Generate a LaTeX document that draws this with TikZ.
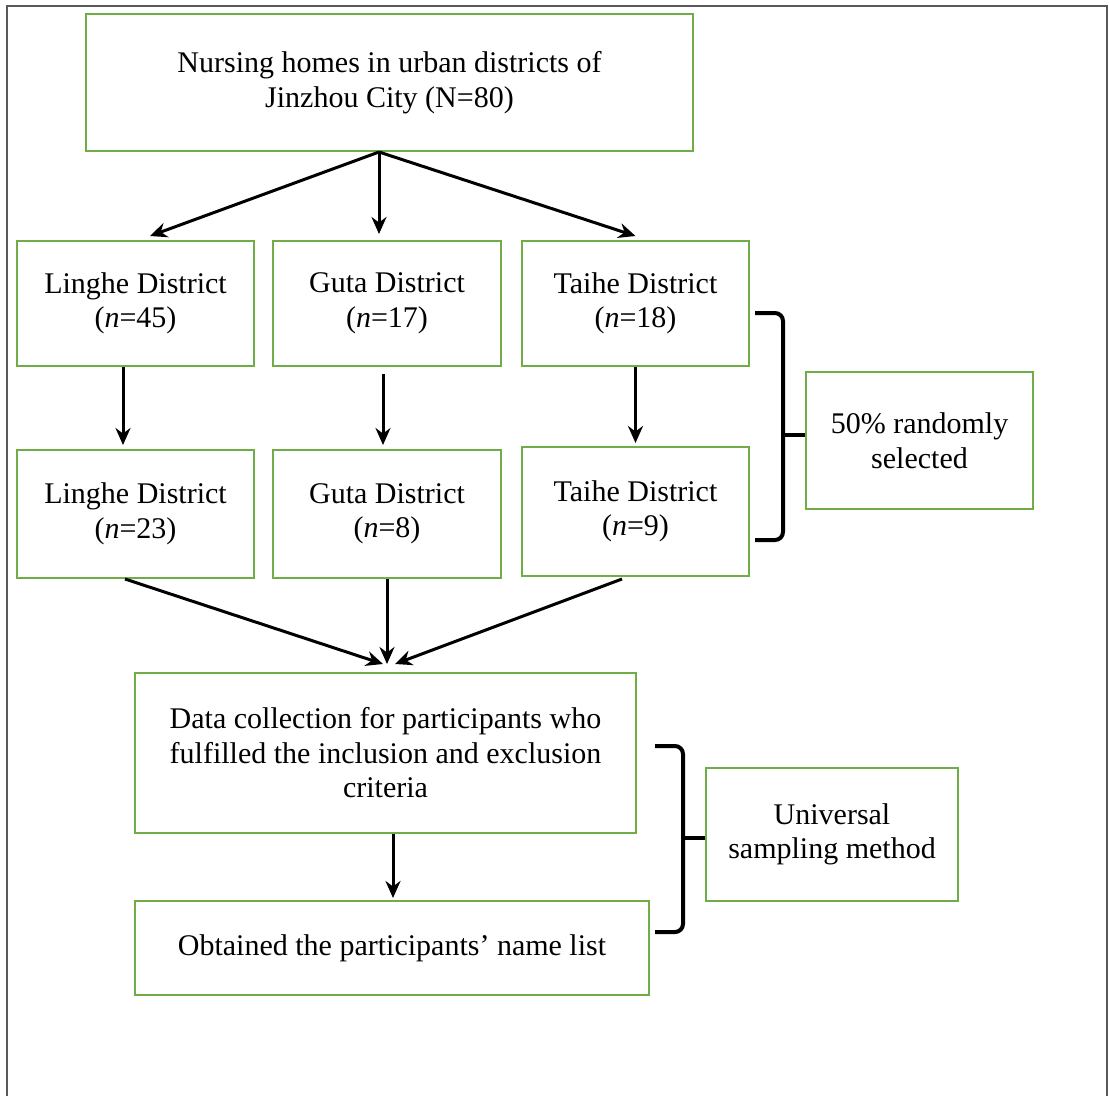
\documentclass[tikz,border=0pt]{standalone}
\usepackage{fontspec}
\setmainfont{Liberation Serif}
\usepackage{xcolor}
\usepackage{tikz}
\usetikzlibrary{arrows.meta, positioning, calc}
\definecolor{boxgreen}{RGB}{112,173,71}
\tikzstyle{box} = [rectangle, draw=boxgreen, line width=2pt, align=center, inner sep=0pt, font=\fontsize{30}{34.5}\selectfont]
\tikzstyle{district} = [box, minimum height=125pt]
\tikzstyle{arrow} = [line width=3pt, -{Stealth[length=17pt,width=15pt]}]
\tikzstyle{bracket} = [line width=4pt, rounded corners=8pt]
\tikzstyle{frame} = [line width=2pt, draw=black!65]

\begin{document}
\begin{tikzpicture}[x=1pt, y=-1pt]
\useasboundingbox (0,0) rectangle (1109,1096);
\draw [frame] (7,1096) -- (7,6) -- (1107,6) -- (1107,1096);

% Entities
\node (nursing) [box, minimum width=607pt, minimum height=137pt] at (389.5,82.5) {Nursing homes in urban districts of\\Jinzhou City (N=80)};
\node (linghe45) [district, minimum width=237pt] at (135.5,303.5) {Linghe District\\(\textit{n}=45)};
\node (guta17) [district, minimum width=228pt] at (387,303.5) {Guta District\\(\textit{n}=17)};
\node (taihe18) [district, minimum width=227pt] at (635.5,303.5) {Taihe District\\(\textit{n}=18)};
\node (linghe23) [district, minimum width=237pt, minimum height=128pt] at (135.5,514) {Linghe District\\(\textit{n}=23)};
\node (guta8) [district, minimum width=228pt, minimum height=128pt] at (387,514) {Guta District\\(\textit{n}=8)};
\node (taihe9) [district, minimum width=227pt, minimum height=129pt] at (635.5,511.5) {Taihe District\\(\textit{n}=9)};
\node (random) [box, minimum width=227pt, minimum height=137pt] at (919.5,440.5) {50\% randomly\\selected};
\node (collect) [box, minimum width=501pt, minimum height=160pt] at (385.5,753) {Data collection for participants who\\fulfilled the inclusion and exclusion\\criteria};
\node (namelist) [box, minimum width=514pt, minimum height=94pt] at (392,948) {Obtained the participants’ name list};
\node (universal) [box, minimum width=252pt, minimum height=133pt] at (832,834.5) {Universal\\sampling method};

% Relationships
\coordinate (fork) at ($(nursing.south)+(-10.5,0)$);
\draw [arrow] (fork) -- ($(linghe45.north)+(14.5,-4)$);
\draw [arrow] (fork) -- ($(guta17.north)+(-8,-6)$);
\draw [arrow] (fork) -- ($(taihe18.north)+(0,-4)$);
\draw [arrow] ($(linghe45.south)+(-12.5,0)$) -- ($(linghe23.north)+(-12.5,-4)$);
\draw [arrow] ($(guta17.south)+(-4,7)$) -- ($(guta8.north)+(-4,-4)$);
\draw [arrow] (taihe18.south) -- ($(taihe9.north)+(0,-3)$);
\draw [arrow] ($(linghe23.south)+(-10.5,0)$) -- ($(collect.north)+(-2.5,-8)$);
\draw [arrow] (guta8.south) -- ($(collect.north)+(1.5,-8)$);
\draw [arrow] ($(taihe9.south)+(-13.5,2)$) -- ($(collect.north)+(9.5,-8)$);
\draw [arrow] ($(collect.south)+(7.5,0)$) -- ($(namelist.north)+(1,-2)$);

% Brackets
\coordinate (randmid) at (783,435);
\draw [bracket] (755,313) -- (783,313) -- (783,540) -- (755,540);
\draw [bracket] (randmid) -- (randmid -| random.west);
\coordinate (univmid) at (683,838);
\draw [bracket] (655,746) -- (683,746) -- (683,932) -- (655,932);
\draw [bracket] (univmid) -- (univmid -| universal.west);
\end{tikzpicture}
\end{document}
